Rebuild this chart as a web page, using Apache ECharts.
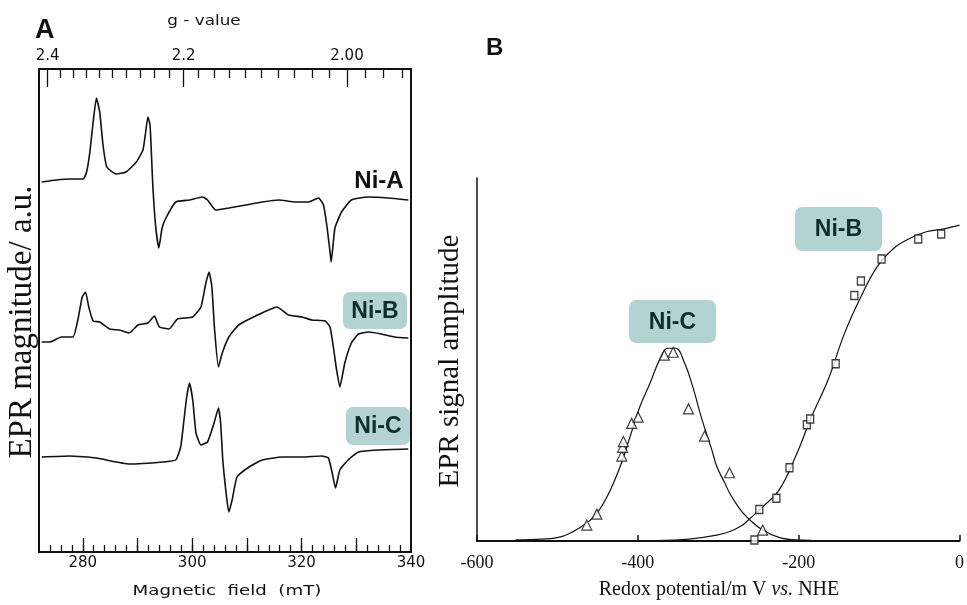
<!DOCTYPE html>
<html>
<head>
<meta charset="utf-8">
<script src="https://cdn.jsdelivr.net/npm/echarts@6/dist/echarts.min.js"></script>
<style>
  html, body { margin: 0; background: #fff; }
  #main { width: 967px; height: 605px; }
</style>
</head>
<body>
<div id="main"></div>
<script>
// ---- Panel A: EPR spectra, [field mT, amplitude a.u.]
const niA = [
  [272.5, 370], [275.2, 372], [277.6, 373], [280.1, 373], [280.7, 380], [281.3, 400],
  [281.9, 430], [282.5, 454], [283.1, 440], [283.7, 407], [284.4, 385], [286.1, 378],
  [287.9, 380], [289.8, 390], [291.0, 402], [291.5, 420], [291.9, 435], [292.3, 427],
  [292.8, 367], [293.3, 327], [293.9, 304], [294.5, 324], [295.2, 334], [297.0, 350],
  [299.5, 352], [301.9, 355], [302.8, 352], [304.3, 342], [306.7, 344], [309.8, 347],
  [312.8, 350], [315.8, 352], [318.9, 350], [321.3, 350], [323.1, 354], [324.0, 347],
  [324.6, 327], [325.2, 300], [325.4, 290], [326.1, 324], [327.3, 340], [329.1, 352],
  [332.2, 355], [335.8, 354], [339.5, 352]
];
const niB = [
  [272.5, 210], [274.0, 210], [276.1, 215], [278.2, 215], [279.1, 232], [279.9, 255],
  [280.5, 260], [281.1, 245], [281.9, 231], [283.1, 230], [284.9, 223], [286.7, 222],
  [288.5, 219], [290.1, 227], [291.9, 229], [293.1, 236], [294.0, 225], [295.8, 223],
  [297.3, 233], [300.1, 235], [301.6, 245], [302.5, 269], [303.1, 280], [303.6, 265],
  [304.1, 222], [304.8, 185], [305.5, 199], [306.7, 215], [308.5, 227], [311.6, 236],
  [315.5, 245], [317.6, 237], [320.1, 235], [321.9, 232], [324.3, 231], [325.2, 225],
  [325.8, 205], [326.4, 182], [327.0, 165], [327.9, 189], [329.1, 209], [330.4, 218],
  [332.2, 220], [334.6, 218], [337.0, 215], [339.5, 214]
];
const niC = [
  [272.5, 95], [277.6, 96], [282.5, 94], [288.5, 88], [294.6, 90], [297.0, 92],
  [297.9, 105], [298.5, 132], [299.0, 155], [299.5, 169], [300.1, 152], [300.7, 119],
  [301.6, 107], [302.8, 110], [304.0, 129], [304.8, 144], [305.2, 129], [305.6, 92],
  [306.2, 59], [306.7, 40], [307.3, 52], [308.2, 75], [310.4, 85], [312.8, 92],
  [316.4, 95], [320.1, 95], [323.7, 96], [324.9, 94], [325.6, 79], [326.2, 64],
  [327.0, 82], [328.5, 92], [330.4, 100], [334.0, 102], [339.5, 103]
];

// field axis ticks (mT)
const fieldMinorTicks = [274, 276, 278, 280, 282, 284, 286, 288, 290, 292, 294, 296, 298, 300,
  302, 304, 306, 308, 310, 312, 314, 316, 318, 320, 322, 324, 326, 328, 330, 332, 334, 336, 338];
const fieldMajorTicks = [280, 290, 300, 310, 320, 330];
const fieldLabels = [280, 300, 320, 340];

// g-value axis ticks
const gMinorTicks = [2.38, 2.36, 2.34, 2.32, 2.30, 2.28, 2.26, 2.24, 2.22, 2.18, 2.16, 2.14,
  2.12, 2.10, 2.08, 2.06, 2.04, 2.02, 1.98, 1.96, 1.94];
const gMajorTicks = [2.4, 2.2, 2.0];
const gLabels = ['2.4', '2.2', '2.00'];
const G_TIMES_FIELD = 656.6; // g * B (mT) at this microwave frequency

// ---- Panel B: redox titration, [potential mV, amplitude]
const niCPoints = [
  [-463.5, 4.4], [-451, 7.4], [-420, 23.4], [-419, 25.8], [-418, 27.4], [-407.7, 32.4],
  [-399.6, 34.1], [-367, 51.2], [-356, 52], [-337, 36.4], [-317, 28.9], [-286, 18.8], [-244.8, 3.0]
];
const niBPoints = [
  [-255, 0.3], [-249, 8.7], [-227.7, 11.8], [-211.4, 20.2], [-189.8, 32], [-185.7, 33.6],
  [-154, 48.8], [-130.8, 67.6], [-122.6, 71.6], [-96.9, 77.7], [-51.3, 83.2], [-22.8, 84.6]
];
const niCFit = [
  [-552, 0.3], [-520, 0.5], [-495, 1.2], [-475, 3.3], [-454.6, 6.7], [-438.3, 12.2],
  [-422, 20.5], [-409.7, 28.7], [-397.5, 37], [-385, 43.4], [-373, 49.9], [-363, 53.1],
  [-352.8, 53.1], [-342.5, 49.4], [-332.4, 43], [-320, 33.3], [-308, 25.1], [-301.8, 20.5],
  [-291.7, 15.9], [-285.6, 13.1], [-275, 9.4], [-265, 6.7], [-244.8, 3], [-224.5, 1],
  [-204, 0.3], [-184, 0.2]
];
const niBFit = [
  [-377, 0.1], [-336.5, 0.5], [-301.8, 1.6], [-285.6, 2.6], [-271, 4.2], [-265, 5.3],
  [-244.8, 9.4], [-224.5, 14], [-204, 23.2], [-184, 34.2], [-163.4, 44.4], [-143, 57.2],
  [-122.6, 67.3], [-102.3, 75.6], [-81.9, 80.6], [-61.5, 83.4], [-41.2, 85.2], [-20.8, 85.9], [0, 87]
];
const potentialTicks = [-600, -400, -200, 0];

const chart = echarts.init(document.getElementById('main'), null, { renderer: 'canvas' });

const ink = '#111';
const tagFill = '#b2d3d1';
const tagText = '#0f2b2b';
const sansA = 'DejaVu Sans';
const serif = '"Liberation Serif", "Times New Roman", serif';

function gLabel(v) {
  for (let i = 0; i < gMajorTicks.length; i++) {
    if (Math.abs(G_TIMES_FIELD / gMajorTicks[i] - v) < 0.5) return gLabels[i];
  }
  return '';
}

function tag(x, y, w, h, text) {
  return {
    type: 'group', x: x, y: y,
    children: [
      { type: 'rect', shape: { x: 0, y: 0, width: w, height: h, r: 7 }, style: { fill: tagFill } },
      { type: 'text', x: w / 2, y: h / 2 + 1, style: { text: text, fill: tagText, font: 'bold 23px "Liberation Sans", Arial', align: 'center', verticalAlign: 'middle' } }
    ]
  };
}

const fieldAxisBase = {
  gridIndex: 0, type: 'value', min: 272, max: 340,
  axisLine: { show: false, onZero: false },
  splitLine: { show: false }
};

const option = {
  animation: false,
  grid: [
    { left: 39, top: 69, width: 372, height: 483, show: true, borderColor: ink, borderWidth: 2, backgroundColor: 'transparent' },
    { left: 477, top: 178, width: 490, height: 363 }
  ],
  xAxis: [
    Object.assign({}, fieldAxisBase, {
      position: 'bottom',
      axisTick: { inside: true, length: 7, customValues: fieldMinorTicks, lineStyle: { color: ink, width: 1.3 } },
      axisLabel: { customValues: fieldLabels, margin: 4, fontFamily: sansA, fontSize: 15, color: ink }
    }),
    Object.assign({}, fieldAxisBase, {
      position: 'bottom',
      axisTick: { inside: true, length: 14, customValues: fieldMajorTicks, lineStyle: { color: ink, width: 1.3 } },
      axisLabel: { show: false }
    }),
    Object.assign({}, fieldAxisBase, {
      position: 'top',
      axisTick: { inside: true, length: 9, customValues: gMinorTicks.map(g => G_TIMES_FIELD / g), lineStyle: { color: ink, width: 1.3 } },
      axisLabel: { customValues: gMajorTicks.map(g => G_TIMES_FIELD / g), formatter: gLabel, margin: 5, fontFamily: sansA, fontSize: 15, color: ink }
    }),
    Object.assign({}, fieldAxisBase, {
      position: 'top',
      axisTick: { inside: true, length: 18, customValues: gMajorTicks.map(g => G_TIMES_FIELD / g), lineStyle: { color: ink, width: 1.3 } },
      axisLabel: { show: false }
    }),
    {
      gridIndex: 1, type: 'value', min: -600, max: 0,
      axisLine: { onZero: false, lineStyle: { color: ink, width: 2 } },
      axisTick: { inside: true, length: 6, customValues: potentialTicks, lineStyle: { color: ink, width: 1.5 } },
      axisLabel: { customValues: potentialTicks, margin: 13, fontFamily: serif, fontSize: 18, color: ink },
      splitLine: { show: false }
    }
  ],
  yAxis: [
    { gridIndex: 0, type: 'value', min: 0, max: 483, show: false },
    {
      gridIndex: 1, type: 'value', min: 0, max: 100,
      axisLine: { show: true, onZero: false, lineStyle: { color: ink, width: 1.5 } },
      axisTick: { show: false }, axisLabel: { show: false }, splitLine: { show: false }
    }
  ],
  series: [
    { name: 'Ni-A', type: 'line', xAxisIndex: 0, yAxisIndex: 0, data: niA, showSymbol: false, smooth: 0.15, lineStyle: { color: ink, width: 1.6 } },
    { name: 'Ni-B', type: 'line', xAxisIndex: 0, yAxisIndex: 0, data: niB, showSymbol: false, smooth: 0.15, lineStyle: { color: ink, width: 1.6 } },
    { name: 'Ni-C', type: 'line', xAxisIndex: 0, yAxisIndex: 0, data: niC, showSymbol: false, smooth: 0.15, lineStyle: { color: ink, width: 1.6 } },
    { name: 'Ni-C fit', type: 'line', xAxisIndex: 4, yAxisIndex: 1, data: niCFit, showSymbol: false, smooth: 0.4, lineStyle: { color: ink, width: 1.2 } },
    { name: 'Ni-B fit', type: 'line', xAxisIndex: 4, yAxisIndex: 1, data: niBFit, showSymbol: false, smooth: 0.4, lineStyle: { color: ink, width: 1.2 } },
    { name: 'Ni-C data', type: 'scatter', xAxisIndex: 4, yAxisIndex: 1, data: niCPoints, symbol: 'triangle', symbolSize: [10, 10], itemStyle: { color: '#fff', borderColor: ink, borderWidth: 1.2 }, z: 5 },
    { name: 'Ni-B data', type: 'scatter', xAxisIndex: 4, yAxisIndex: 1, data: niBPoints, symbol: 'rect', symbolSize: [7, 8], itemStyle: { color: '#fff', borderColor: ink, borderWidth: 1.4 }, z: 5 }
  ],
  graphic: [
    { type: 'text', x: 35, y: 17, style: { text: 'A', font: 'bold 27px "Liberation Sans", Arial', fill: ink } },
    { type: 'text', x: 204, y: 21, scaleX: 1.2, style: { text: 'g - value', font: '14px "DejaVu Sans"', fill: ink, align: 'center', verticalAlign: 'middle' } },
    { type: 'text', x: 227, y: 591, scaleX: 1.3, style: { text: 'Magnetic  field  (mT)', font: '14px "DejaVu Sans"', fill: ink, align: 'center', verticalAlign: 'middle' } },
    { type: 'text', x: 22, y: 322, rotation: Math.PI / 2, style: { text: 'EPR magnitude/ a.u.', font: '33px ' + serif, fill: ink, align: 'center', verticalAlign: 'middle' } },
    { type: 'text', x: 379, y: 181, style: { text: 'Ni-A', font: 'bold 24px "Liberation Sans", Arial', fill: ink, align: 'center', verticalAlign: 'middle' } },
    tag(343, 292, 64, 37, 'Ni-B'),
    tag(346, 407, 64, 38, 'Ni-C'),

    { type: 'text', x: 486, y: 36, style: { text: 'B', font: 'bold 24px "Liberation Sans", Arial', fill: ink } },
    { type: 'text', x: 450, y: 361, rotation: Math.PI / 2, style: { text: 'EPR signal amplitude', font: '29px ' + serif, fill: ink, align: 'center', verticalAlign: 'middle' } },
    {
      type: 'text', x: 719, y: 590,
      style: {
        text: '{n|Redox potential/m V }{i|vs.}{n| NHE}',
        align: 'center', verticalAlign: 'middle',
        rich: {
          n: { fontFamily: serif, fontSize: 20, fill: ink, color: ink },
          i: { fontFamily: serif, fontSize: 20, fontStyle: 'italic', fill: ink, color: ink }
        }
      }
    },
    tag(629, 300, 87, 43, 'Ni-C'),
    tag(795, 207, 87, 44, 'Ni-B')
  ]
};

chart.setOption(option);
</script>
</body>
</html>
